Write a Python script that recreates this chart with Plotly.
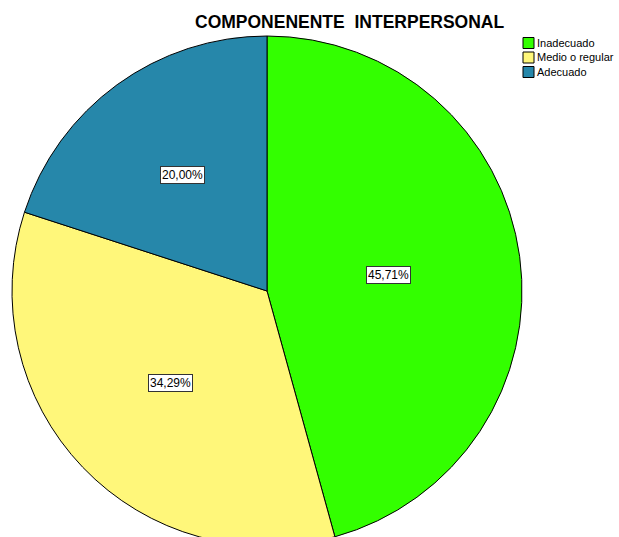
import math
import plotly.graph_objects as go

categories = ["Inadecuado", "Medio o regular", "Adecuado"]
percentages = [45.71, 34.29, 20.00]
colors = ["#33FF00", "#FFF77A", "#2687AA"]
title_text = "COMPONENENTE  INTERPERSONAL"

W, H = 619, 550          # figure is slightly taller than the 537px window; the pie runs off the bottom as in the reference
cx, cy, R = 267, 291, 255
dom_x = [(cx - R) / W, (cx + R) / W]
dom_y = [max(0.0, 1 - (cy + R) / H), 1 - (cy - R) / H]
FONT = "Liberation Sans, Arial, sans-serif"

fig = go.Figure()
fig.add_trace(go.Pie(
    labels=categories,
    values=percentages,
    sort=False,
    direction="clockwise",
    rotation=0,
    marker=dict(colors=colors, line=dict(color="black", width=1)),
    textinfo="none",
    hoverinfo="label+percent",
    domain=dict(x=dom_x, y=dom_y),
    showlegend=False,
))

# percentage labels placed from the data: mid-angle of each slice, at a radius
# blending the sector centroid distance and a fixed fraction of the radius
total = sum(percentages)
cum = 0.0
for cat, v in zip(categories, percentages):
    theta = v / total * 2 * math.pi
    mid = cum / total * 2 * math.pi + theta / 2
    cum += v
    half = theta / 2
    centroid = 2 * R * math.sin(half) / (3 * half)
    r = 0.5 * centroid + 0.5 * 0.5 * R
    px = cx + r * math.sin(mid)
    py = cy - r * math.cos(mid)
    fig.add_annotation(
        x=px / W, y=1 - py / H, xref="paper", yref="paper",
        xanchor="center", yanchor="middle",
        text=f"{v:.2f}%".replace(".", ","),
        showarrow=False,
        font=dict(family=FONT, size=12, color="black"),
        bgcolor="white", bordercolor="#333333", borderwidth=1, borderpad=1,
    )

# legend (swatch + label per category)
lx, ly0, dy, sw = 523, 43, 14.5, 11
for i, (cat, col) in enumerate(zip(categories, colors)):
    yc = ly0 + i * dy
    fig.add_shape(
        type="rect", xref="paper", yref="paper",
        x0=lx / W, x1=(lx + sw) / W,
        y0=1 - (yc - sw / 2) / H, y1=1 - (yc + sw / 2) / H,
        fillcolor=col, line=dict(color="black", width=1),
    )
    fig.add_annotation(
        x=(lx + sw + 1) / W, y=1 - yc / H, xref="paper", yref="paper",
        xanchor="left", yanchor="middle", text=cat, showarrow=False,
        font=dict(family=FONT, size=11, color="black"),
    )

fig.add_annotation(
    x=350 / W, y=1 - 22 / H, xref="paper", yref="paper",
    xanchor="center", yanchor="middle", showarrow=False,
    text=f"<b>{title_text}</b>",
    font=dict(family=FONT, size=17.5, color="black"),
)

fig.update_layout(
    width=W, height=H,
    margin=dict(l=0, r=0, t=0, b=0),
    paper_bgcolor="white",
    plot_bgcolor="white",
    showlegend=False,
)

fig.write_html("out.html", config={"displayModeBar": False})

# remove the browser's default page margin so the figure fills the window
with open("out.html", encoding="utf-8") as f:
    html = f.read()
html = html.replace("<body>", '<body style="margin:0;overflow:hidden">', 1)
with open("out.html", "w", encoding="utf-8") as f:
    f.write(html)
